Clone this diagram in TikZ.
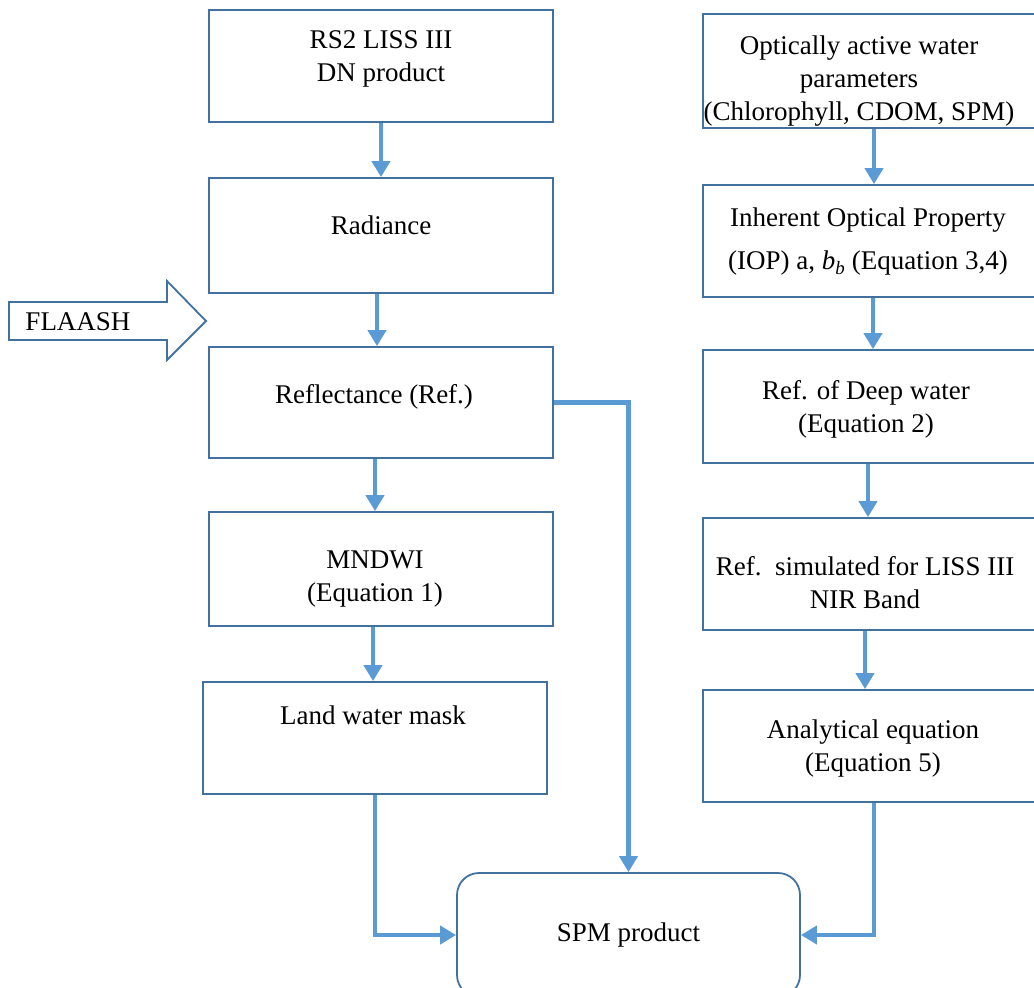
\documentclass[tikz,border=0pt]{standalone}
\usepackage{fontspec}
\setmainfont{Liberation Serif}
\usetikzlibrary{arrows.meta}
\definecolor{boxblue}{RGB}{65,113,156}
\definecolor{arrblue}{RGB}{91,155,213}
\tikzset{
  boxline/.style={draw=boxblue, line width=1.8pt},
  pbox/.style={boxline, rectangle, inner sep=0pt, fill=none},
  txt/.style={inner sep=0pt, align=center, font=\fontsize{27}{33}\selectfont, text=black},
  arr/.style={draw=arrblue, line width=4.5pt, -{Triangle[width=18pt,length=16pt]}},
}
\begin{document}
\begin{tikzpicture}[x=1pt,y=-1pt]
\useasboundingbox (0,0) rectangle (1034,988);
\clip (0,0) rectangle (1034,988);
% left column boxes
\node[pbox, minimum width=344pt, minimum height=112pt] (l1) at (381,66) {};
\node[pbox, minimum width=344pt, minimum height=115pt] (l2) at (381,235.5) {};
\node[pbox, minimum width=344pt, minimum height=111pt] (l3) at (381,402.5) {};
\node[pbox, minimum width=344pt, minimum height=114pt] (l4) at (381,569) {};
\node[pbox, minimum width=344pt, minimum height=112pt] (l5) at (375,738) {};
\node[txt] (l1t) at (381,59) {RS2 LISS III\\DN product};
\node[txt] (l2t) at (381,225) {Radiance};
\node[txt] (l3t) at (374,397) {Reflectance (Ref.)};
\node[txt] (l4t) at (375,579) {MNDWI\\(Equation 1)};
\node[txt] (l5t) at (373,715) {Land water mask};
% right column boxes
\node[pbox, minimum width=333pt, minimum height=114pt] (r1) at (869.5,71) {};
\node[pbox, minimum width=333pt, minimum height=112pt] (r2) at (869.5,241) {};
\node[pbox, minimum width=333pt, minimum height=113pt] (r3) at (869.5,406.5) {};
\node[pbox, minimum width=333pt, minimum height=112pt] (r4) at (869.5,574) {};
\node[pbox, minimum width=333pt, minimum height=112pt] (r5) at (869.5,746) {};
\node[txt] (r1t) at (859,81.5) {Optically active water\\parameters\\(Chlorophyll, CDOM, SPM)};
\node[txt] (r2t) at (868,241.5) {Inherent Optical Property\\[10pt](IOP) a, \textit{b}\textsubscript{\textit{b}} (Equation 3,4)};
\node[txt] (r3t) at (866,409.5) {Ref. of Deep water\\(Equation 2)};
\node[txt] (r4t) at (865,583) {Ref.\ \ simulated for LISS III\\NIR Band};
\node[txt] (r5t) at (873,748.5) {Analytical equation\\(Equation 5)};
% SPM product
\node[boxline, rectangle, rounded corners=22pt, minimum width=343pt, minimum height=124pt, inner sep=0pt] (spm) at (628.5,935) {};
\node[txt] (spmt) at (628.5,935) {SPM product};
% FLAASH block arrow
\draw[boxline, line join=miter] (9,302) -- (167,302) -- (167,281) -- (206,321) -- (167,360) -- (167,340) -- (9,340) -- cycle;
\node[txt] (flaash) at (78,322) {FLAASH};
% connectors
\draw[arr] (l1.south) -- (l2.north);
\draw[arr] ([xshift=-4pt]l2.south) -- ([xshift=-4pt]l3.north);
\draw[arr] ([xshift=-6pt]l3.south) -- ([xshift=-6pt]l4.north);
\draw[arr] ([xshift=-8pt]l4.south) -- ([xshift=-2pt]l5.north);
\draw[arr] (l3.east) -| (spm.north);
\draw[arr] (l5.south) |- (spm.west);
\draw[arr] ([xshift=4.5pt]r1.south) -- ([xshift=4.5pt]r2.north);
\draw[arr] ([xshift=3.5pt]r2.south) -- ([xshift=3.5pt]r3.north);
\draw[arr] ([xshift=-1.5pt]r3.south) -- ([xshift=-1.5pt]r4.north);
\draw[arr] ([xshift=-4.5pt]r4.south) -- ([xshift=-4.5pt]r5.north);
\draw[arr] ([xshift=4.5pt]r5.south) |- (spm.east);
\end{tikzpicture}
\end{document}
